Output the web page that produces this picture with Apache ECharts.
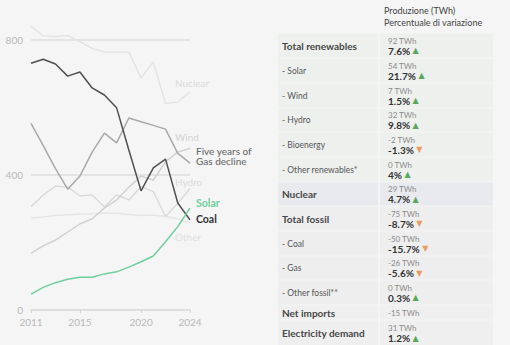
<!DOCTYPE html>
<html><head><meta charset="utf-8">
<script src="https://cdn.jsdelivr.net/npm/echarts@6/dist/echarts.min.js"></script>
<style>html,body{margin:0;padding:0;background:#f5f5f5}#c{width:510px;height:345px}</style>
</head><body><div id="c"></div>
<script>
const years = ['2011','2012','2013','2014','2015','2016','2017','2018','2019','2020','2021','2022','2023','2024'];
const nuclear = [841, 812, 810, 813, 795, 775, 764, 764, 764, 687, 735, 612, 616, 647];
const coal    = [731, 743, 729, 693, 705, 658, 637, 599, 474, 353, 421, 447, 317, 267];
const gas     = [553, 487, 419, 358, 397, 468, 524, 495, 569, 558, 547, 536, 464, 435];
const wind    = [168, 190, 207, 231, 255, 270, 302, 326, 364, 397, 385, 439, 468, 479];
const hydro   = [306, 341, 367, 364, 338, 341, 305, 341, 326, 366, 351, 277, 316, 360];
const other   = [272, 276, 280, 282, 284, 285, 287, 287, 283, 280, 281, 277, 270, 258];
const solar   = [47, 67, 81, 91, 97, 97, 107, 113, 127, 143, 160, 202, 247, 302];
const yTicks = [0, 400, 800];
const xTickYears = ['2011','2015','2020','2024'];

const headerLines = ['Produzione (TWh)', 'Percentuale di variazione'];
const rowLabels = ['Total renewables','- Solar','- Wind','- Hydro','- Bioenergy','- Other renewables*','Nuclear','Total fossil','- Coal','- Gas','- Other fossil**','Net imports','Electricity demand'];
const rowTwh = ['92 TWh','54 TWh','7 TWh','32 TWh','-2 TWh','0 TWh','29 TWh','-75 TWh','-50 TWh','-26 TWh','0 TWh','-15 TWh','31 TWh'];
const rowPct = ['7.6%','21.7%','1.5%','9.8%','-1.3%','4%','4.7%','-8.7%','-15.7%','-5.6%','0.3%','','1.2%'];
const rowDir = ['up','up','up','up','down','up','up','down','down','down','up','','up'];
const rowMain = [1,0,0,0,0,0,1,1,0,0,0,1,1];
const rowGroup = ['r','r','r','r','r','r','n','f','f','f','f','x','x'];

const FONT = 'Lato, "Open Sans", sans-serif';
const rowEdges = [33, 58, 83, 108, 132, 157, 182, 206, 231, 256, 280, 305, 320, 346];
const groupFill = {r:'#eef0ee', n:'#e8eaee', f:'#eeeeee', x:'#efefef'};
const colL = 278, colM = 379, colR = 493;

const graphics = [];
headerLines.forEach((t,i)=>graphics.push({type:'text', x:384, y:10 + i*12, style:{text:t, font:'9px '+FONT, fill:'#444', textVerticalAlign:'middle', lineHeight:9}}));
rowLabels.forEach((lab,i)=>{
  const y0 = rowEdges[i], y1 = rowEdges[i+1], ym = (y0+y1)/2;
  const fill = groupFill[rowGroup[i]];
  graphics.push({type:'rect', shape:{x:colL, y:y0+0.5, width:colM-colL-1, height:y1-y0-1}, style:{fill}});
  graphics.push({type:'rect', shape:{x:colM+1, y:y0+0.5, width:colR-colM-1, height:y1-y0-1}, style:{fill}});
  graphics.push({type:'text', x:282, y:ym, style:{text:lab, font:(rowMain[i]?'bold 10px ':'8.5px ')+FONT, fill:rowMain[i]?'#474747':'#555', textVerticalAlign:'middle'}});
  if (rowPct[i]) {
    graphics.push({type:'text', x:388, y:ym-5, style:{text:rowTwh[i], font:'8px '+FONT, fill:'#8a8a8a', textVerticalAlign:'middle', lineHeight:8}});
    graphics.push({type:'text', x:388, y:ym+5, style:{
      text:rowPct[i] + ' {' + rowDir[i] + '|' + (rowDir[i]==='up'?'▲':'▼') + '}',
      font:'bold 10px '+FONT, fill:'#333', textVerticalAlign:'middle', lineHeight:10,
      rich:{up:{fill:'#5aa65a', font:'8px DejaVu Sans', lineHeight:10}, down:{fill:'#ec9a62', font:'8px DejaVu Sans', lineHeight:10}}}});
  } else {
    graphics.push({type:'text', x:388, y:ym, style:{text:rowTwh[i], font:'8px '+FONT, fill:'#8a8a8a', textVerticalAlign:'middle'}});
  }
});
// line labels
const lineLabels = [
  {t:'Nuclear', x:175, y:83, c:'#dadada', f:'10px '},
  {t:'Wind', x:175, y:137, c:'#d3d3d3', f:'10px '},
  {t:'Five years of', x:196, y:150.5, c:'#6a6a6a', f:'500 10px '},
  {t:'Gas decline', x:196, y:161, c:'#6a6a6a', f:'500 10px '},
  {t:'Hydro', x:175, y:182, c:'#dadada', f:'10px '},
  {t:'Solar', x:196, y:203, c:'#6fcf9c', f:'bold 10.5px '},
  {t:'Coal', x:196, y:219, c:'#333', f:'bold 10.5px '},
  {t:'Other', x:175, y:237, c:'#e0e0e0', f:'10px '}
];
lineLabels.forEach(l=>graphics.push({type:'text', x:l.x, y:l.y, z:10, style:{text:l.t, font:l.f+FONT, fill:l.c, textVerticalAlign:'middle', lineHeight:10}}));

function ser(name, data, color, w, z){
  return {name, type:'line', data, symbol:'none', clip:false, z, lineStyle:{color, width:w}, itemStyle:{color}, emphasis:{disabled:true}};
}
const chart = echarts.init(document.getElementById('c'), null, {renderer:'svg'});
chart.setOption({
  backgroundColor:'#f5f5f5',
  animation:false,
  grid:{left:31, right:320, top:40, bottom:35},
  xAxis:{type:'category', data:years, boundaryGap:false,
    axisLine:{lineStyle:{color:'#dcdcdc', width:1.5}},
    axisTick:{show:true, length:3, lineStyle:{color:'#d5d5d5'}, interval:(i,v)=>xTickYears.includes(v)},
    axisLabel:{color:'#b8b8b8', fontSize:10, fontFamily:FONT, margin:7, interval:(i,v)=>xTickYears.includes(v)},
    splitLine:{show:false}},
  yAxis:{type:'value', min:yTicks[0], max:yTicks[yTicks.length-1], interval:400,
    axisLine:{show:false}, axisTick:{show:false},
    axisLabel:{color:'#b8b8b8', fontSize:10, fontFamily:FONT, margin:8},
    splitLine:{lineStyle:{color:'#dedede', width:1.5}}},
  series:[
    ser('Nuclear', nuclear, '#e2e2e2', 1.3, 1),
    ser('Other', other, '#e4e4e4', 1.3, 1),
    ser('Hydro', hydro, '#d8d8d8', 1.3, 2),
    ser('Wind', wind, '#cdcdcd', 1.3, 2),
    ser('Gas', gas, '#a9a9a9', 1.5, 3),
    ser('Coal', coal, '#505050', 1.5, 4),
    ser('Solar', solar, '#6fcf9c', 1.5, 5)
  ],
  graphic:graphics
});
</script></body></html>
